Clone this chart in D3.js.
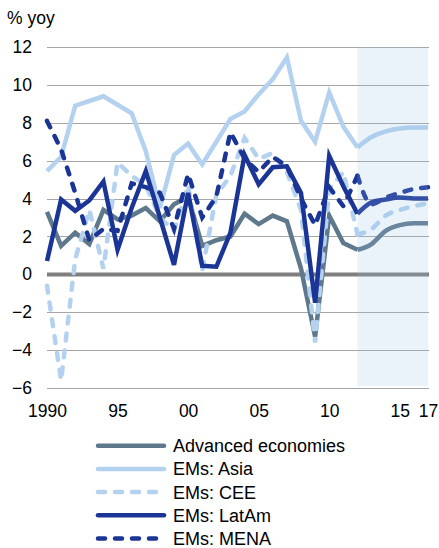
<!DOCTYPE html>
<html>
<head>
<meta charset="utf-8">
<script src="https://cdn.jsdelivr.net/npm/d3@7"></script>
<style>
  body { margin: 0; background: #fff; }
  svg { font-family: "Liberation Sans", Arial, sans-serif; }
</style>
</head>
<body>
<div id="chart"></div>
<script>
// data
var years = d3.range(1990, 2018);
var advanced = [3.3, 1.5, 2.2, 1.6, 3.4, 2.9, 3.1, 3.5, 2.8, 3.7, 4.1, 1.5, 1.8, 2.0, 3.2, 2.65, 3.1, 2.8, 0.3, -3.3, 3.1, 1.65, 1.3, 1.6, 2.3, 2.6, 2.7, 2.7];
var asia = [5.45, 6.2, 8.9, 9.15, 9.4, 8.95, 8.5, 6.5, 3.5, 6.3, 6.9, 5.8, 7.0, 8.2, 8.6, 9.5, 10.3, 11.45, 8.1, 7.0, 9.6, 7.8, 6.7, 7.25, 7.55, 7.7, 7.75, 7.75];
var cee = [-0.6, -5.6, 0.8, 3.4, 0.3, 5.9, 5.2, 4.7, 3.0, 2.3, 4.7, 0.2, 4.2, 5.2, 7.2, 6.1, 6.4, 5.4, 3.4, -3.6, 4.5, 5.4, 2.1, 2.4, 3.1, 3.4, 3.6, 3.75];
var latam = [0.7, 3.95, 3.35, 3.9, 4.9, 1.3, 3.5, 5.45, 3.0, 0.5, 4.3, 0.45, 0.4, 2.2, 6.3, 4.75, 5.65, 5.7, 4.3, -1.5, 6.25, 4.65, 3.2, 3.8, 3.95, 4.05, 4.0, 4.0];
var mena = [8.1, 6.6, 4.3, 1.8, 2.4, 2.3, 4.8, 4.6, 4.3, 2.4, 5.3, 3.0, 4.1, 7.5, 6.1, 5.4, 6.2, 5.7, 4.0, 2.6, 4.6, 3.6, 5.2, 3.7, 4.05, 4.3, 4.5, 4.6];

var seriesNames = ["Advanced economies", "EMs: Asia", "EMs: CEE", "EMs: LatAm", "EMs: MENA"];
var yTicks = [-6, -4, -2, 0, 2, 4, 6, 8, 10, 12];
var xTicks = [1990, 1995, 2000, 2005, 2010, 2015, 2017];
var xTickLabels = ["1990", "95", "00", "05", "10", "15", "17"];
var forecastStart = 2012;

var series = [
    { name: seriesNames[0], values: advanced, color: "#5e788c", dash: null },
    { name: seriesNames[1], values: asia, color: "#b4d2f0", dash: null },
    { name: seriesNames[2], values: cee, color: "#b4d2f0", dash: "7,10" },
    { name: seriesNames[3], values: latam, color: "#1b3596", dash: null },
    { name: seriesNames[4], values: mena, color: "#1b3596", dash: "7,10" }
];

var width = 439, height = 548;

var x = d3.scaleLinear()
    .domain([1990, 2017])
    .range([47, 428]);

var y = d3.scaleLinear()
    .domain([-6, 12])
    .range([388, 47]);

var svg = d3.select("#chart").append("svg")
    .attr("width", width)
    .attr("height", height);

// gridlines
svg.append("g")
    .selectAll("line")
    .data(yTicks)
    .enter().append("line")
    .attr("x1", x(1990))
    .attr("x2", x(2017) + 1)
    .attr("y1", function (d) { return Math.round(y(d)) + 0.5; })
    .attr("y2", function (d) { return Math.round(y(d)) + 0.5; })
    .attr("stroke", function (d) { return d === 0 ? "#7f7f7f" : "#a6a6a6"; })
    .attr("stroke-width", function (d) { return d === 0 ? 4 : 1.2; });

// y labels
var yAxis = d3.axisLeft(y).tickValues(yTicks).tickSize(0).tickPadding(0);
svg.append("g")
    .attr("transform", "translate(32,0)")
    .call(yAxis)
    .call(function (g) { g.select(".domain").remove(); })
    .selectAll("text")
    .attr("font-size", "17.5px")
    .attr("font-family", "Liberation Sans, Arial, sans-serif")
    .attr("fill", "#000");

// x labels
var xAxis = d3.axisBottom(x)
    .tickValues(xTicks)
    .tickFormat(function (d, i) { return xTickLabels[i]; })
    .tickSize(0)
    .tickPadding(0);
svg.append("g")
    .attr("transform", "translate(0,405)")
    .call(xAxis)
    .call(function (g) { g.select(".domain").remove(); })
    .selectAll("text")
    .attr("font-size", "17.5px")
    .attr("font-family", "Liberation Sans, Arial, sans-serif")
    .attr("fill", "#000");

svg.append("text")
    .attr("x", 7)
    .attr("y", 24)
    .attr("font-size", "17.5px")
    .text("% yoy");

// lines: history straight, forecast smoothed
var lineHist = d3.line()
    .x(function (d) { return x(d.year); })
    .y(function (d) { return y(d.value); });
var lineFc = d3.line()
    .curve(d3.curveMonotoneX)
    .x(function (d) { return x(d.year); })
    .y(function (d) { return y(d.value); });

series.forEach(function (s) {
    var pts = years.map(function (yr, i) { return { year: yr, value: s.values[i] }; });
    var hist = pts.filter(function (d) { return d.year <= forecastStart; });
    var fc = pts.filter(function (d) { return d.year >= forecastStart; });
    [[hist, lineHist], [fc, lineFc]].forEach(function (p) {
        svg.append("path")
            .datum(p[0])
            .attr("d", p[1])
            .attr("fill", "none")
            .attr("stroke", s.color)
            .attr("stroke-width", 4.5)
            .attr("stroke-linejoin", "miter")
            .attr("stroke-linecap", s.dash ? "round" : "butt")
            .attr("stroke-dasharray", s.dash);
    });
});

// forecast shading over the lines
svg.append("rect")
    .attr("x", x(forecastStart))
    .attr("y", y(12))
    .attr("width", x(2017) - x(forecastStart))
    .attr("height", y(-5.9) - y(12))
    .attr("fill", "rgb(150,190,230)")
    .attr("fill-opacity", 0.2);

// legend
var legend = svg.append("g")
    .selectAll("g")
    .data(series)
    .enter().append("g")
    .attr("transform", function (d, i) { return "translate(0," + (445.7 + i * 23.2) + ")"; });

legend.append("line")
    .attr("x1", 98)
    .attr("x2", 164)
    .attr("stroke", function (d) { return d.color; })
    .attr("stroke-width", 4.5)
    .attr("stroke-linecap", "round")
    .attr("stroke-dasharray", function (d) { return d.dash; });

legend.append("text")
    .attr("x", 173)
    .attr("y", 6.5)
    .attr("font-size", "18px")
    .text(function (d) { return d.name; });
</script>
</body>
</html>
